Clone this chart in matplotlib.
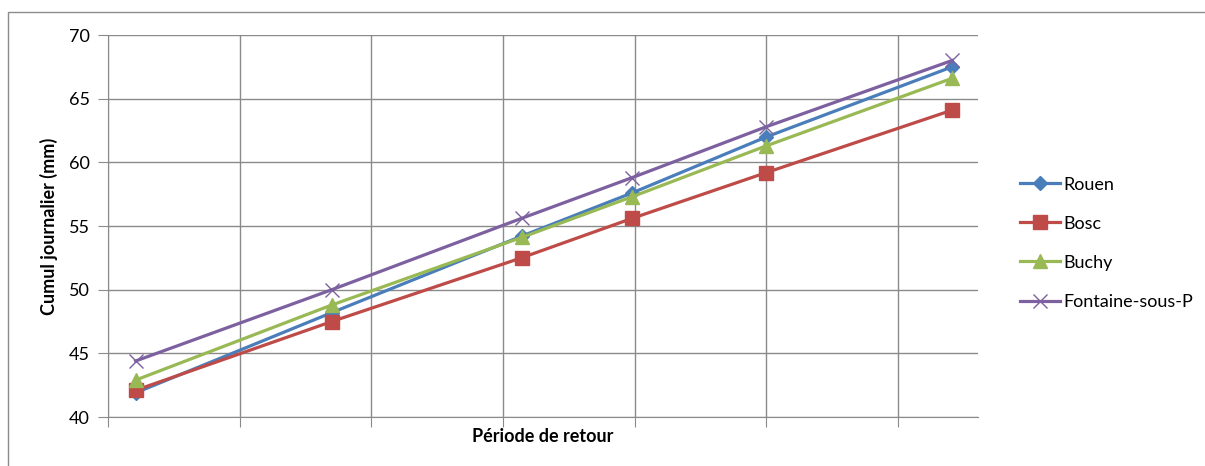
import matplotlib.pyplot as plt
from matplotlib.patches import Rectangle

plt.rcParams['font.family'] = ['Lato', 'DejaVu Sans']

# positions along the (unlabelled) return period axis, in grid units
periode = [0.21, 1.70, 3.14, 3.98, 5.00, 6.41]

rouen = [41.9, 48.2, 54.2, 57.6, 62.0, 67.5]
bosc = [42.1, 47.5, 52.5, 55.6, 59.2, 64.1]
buchy = [42.9, 48.8, 54.1, 57.3, 61.3, 66.6]
fontaine = [44.4, 50.0, 55.6, 58.8, 62.8, 68.0]

series = [
    ("Rouen", rouen, "#4A7EBB", "D", 7),
    ("Bosc", bosc, "#BE4B48", "s", 10),
    ("Buchy", buchy, "#98B954", "^", 10),
    ("Fontaine-sous-P", fontaine, "#7D60A0", "x", 10),
]

fig = plt.figure(figsize=(12.05, 4.66), dpi=100)
ax = fig.add_axes([108/1205, 1-417/466, (978-108)/1205, (417-35)/466])

# chart area border
fig.patches.append(Rectangle((8/1205, -0.05), 1.2, 1-12/466+0.05,
                             transform=fig.transFigure, fill=False,
                             edgecolor="#8c8c8c", linewidth=1.0))

for name, vals, col, mk, ms in series:
    ax.plot(periode, vals, color=col, lw=2.3, marker=mk, markersize=ms,
            markeredgewidth=1.0, label=name,
            markerfacecolor=col, markeredgecolor=col)

ax.set_xlim(0, 6.606)
ax.set_ylim(40, 70)
ax.set_xticks(range(0, 7))
ax.set_xticklabels([])
ax.set_yticks(range(40, 71, 5))
ax.grid(True, color="#8a8a8a", linewidth=1.0)
ax.set_axisbelow(True)
for s in ["top", "right"]:
    ax.spines[s].set_visible(False)
for s in ["left", "bottom"]:
    ax.spines[s].set_color("#8a8a8a")
ax.tick_params(axis="both", direction="out", length=7, color="#8a8a8a",
               labelsize=13, pad=6)

ax.set_ylabel("Cumul journalier (mm)", fontsize=13, fontweight="bold", labelpad=8)
ax.set_xlabel("Période de retour", fontsize=13, fontweight="bold", labelpad=-5)

ax.legend(loc="center left", bbox_to_anchor=(1.03, 0.455), frameon=False,
          fontsize=13, handlelength=2.2, handletextpad=0.2, labelspacing=1.28)

plt.savefig("out.png", dpi=100)
